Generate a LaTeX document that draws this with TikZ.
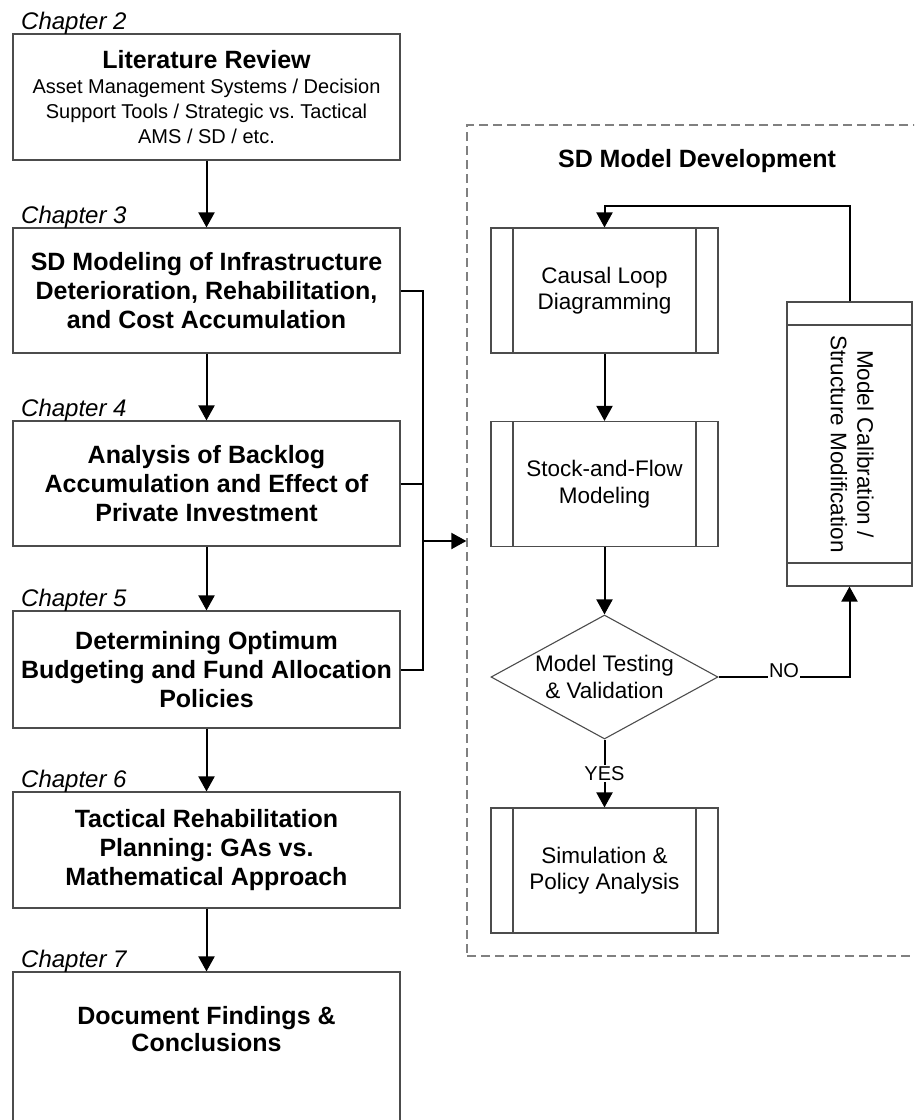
\documentclass[tikz,border=0pt]{standalone}
\usepackage{fontspec}
\usepackage{graphicx}
\setmainfont{Liberation Sans}
\usetikzlibrary{arrows.meta,shapes.geometric}
\frenchspacing

\begin{document}
\begin{tikzpicture}[x=1pt,y=-1pt,
  chapbox/.style={draw=black!70, line width=1.1pt, minimum width=387pt, inner sep=0pt,
    align=center, font=\fontsize{25}{29}\selectfont\bfseries},
  chaplabel/.style={anchor=base west, inner sep=0pt, font=\fontsize{24}{28}\selectfont\itshape},
  process/.style={draw=black!70, line width=1.1pt, minimum width=227pt, minimum height=125pt,
    inner sep=0pt, align=center, font=\fontsize{22.5}{26.5}\selectfont,
    path picture={\draw[black!70, line width=1.1pt]
      ([xshift=22pt]path picture bounding box.north west) -- ([xshift=22pt]path picture bounding box.south west)
      ([xshift=-22pt]path picture bounding box.north east) -- ([xshift=-22pt]path picture bounding box.south east);}},
  vprocess/.style={draw=black!70, line width=1.1pt, minimum width=125pt, minimum height=284pt,
    inner sep=0pt, font=\fontsize{22.5}{26.5}\selectfont,
    path picture={\draw[black!70, line width=1.1pt]
      ([yshift=-23pt]path picture bounding box.north west) -- ([yshift=-23pt]path picture bounding box.north east)
      ([yshift=23pt]path picture bounding box.south west) -- ([yshift=23pt]path picture bounding box.south east);}},
  decision/.style={draw=black!70, line width=1.1pt, diamond, minimum width=227pt, minimum height=124pt, inner sep=0pt},
  flow/.style={line width=2pt, -{Triangle[width=16pt,length=15pt]}},
  link/.style={line width=2pt},
  tag/.style={fill=white, inner sep=1pt, font=\fontsize{20}{24}\selectfont}
]
\useasboundingbox (0,0) rectangle (914,1120);
\clip (0,0) rectangle (914,1120);

% chapter sequence
\node[chapbox, minimum height=126pt, font=\fontsize{20}{25}\selectfont] (lit) at (206.5,97)
  {{\fontsize{25}{26}\selectfont\bfseries Literature Review}\\Asset Management Systems / Decision\\Support Tools / Strategic vs. Tactical\\AMS / SD / etc.};
\node[chapbox, minimum height=125pt] (sdmod) at (206.5,290.5)
  {SD Modeling of Infrastructure\\Deterioration, Rehabilitation,\\and Cost Accumulation};
\node[chapbox, minimum height=125pt] (backlog) at (206.5,483.5)
  {Analysis of Backlog\\Accumulation and Effect of\\Private Investment};
\node[chapbox, minimum height=117pt] (budget) at (206.5,669.5)
  {Determining Optimum\\Budgeting and Fund Allocation\\Policies};
\node[chapbox, minimum height=116pt] (tactical) at (206.5,850)
  {Tactical Rehabilitation\\Planning: GAs vs.\\Mathematical Approach};
\node[chapbox, minimum height=180pt,
  label={[align=center, font=\fontsize{25}{27}\selectfont\bfseries, yshift=33pt]center:Document Findings \&\\Conclusions}]
  (findings) at (206.5,1062) {};

\node[chaplabel] (ch2) at (21,29.5) {Chapter 2};
\node[chaplabel] (ch3) at (21,223) {Chapter 3};
\node[chaplabel] (ch4) at (21,416) {Chapter 4};
\node[chaplabel] (ch5) at (21,606) {Chapter 5};
\node[chaplabel] (ch6) at (21,787) {Chapter 6};
\node[chaplabel] (ch7) at (21,967) {Chapter 7};

\draw[flow] (lit) -- (sdmod);
\draw[flow] (sdmod) -- (backlog);
\draw[flow] (backlog) -- (budget);
\draw[flow] (budget) -- (tactical);
\draw[flow] (tactical) -- (findings);

% model development panel
\node[draw=black!50, line width=1.3pt, dash pattern=on 9pt off 5pt, minimum width=470pt,
  minimum height=831pt, inner sep=0pt] (frame) at (702,540.5) {};
\node[anchor=base, inner sep=0pt, font=\fontsize{25}{30}\selectfont\bfseries] (frametitle) at (697,167) {SD Model Development};

\node[process] (causal) at (604.5,290.5) {Causal Loop\\Diagramming};
\node[process] (stock) at (604.5,484) {Stock-and-Flow\\Modeling};
\node[decision, label={[align=center, font=\fontsize{22.5}{26.5}\selectfont]center:Model Testing\\\& Validation}] (test) at (604.5,677) {};
\node[process] (sim) at (604.5,870.5) {Simulation \&\\Policy Analysis};
\node[vprocess] (calib) at (849.5,444)
  {\rotatebox{-90}{\begin{tabular}{@{}c@{}}Model Calibration /\\Structure Modification\end{tabular}}};

% chapters feeding the model development
\coordinate (bus) at (423,541);
\draw[link] (sdmod.east) -| (bus);
\draw[link] (backlog.east) -- (backlog.east -| bus);
\draw[link] (budget.east) -| (bus);
\draw[flow] (bus) -- (bus -| frame.west);

\draw[flow] (causal) -- (stock);
\draw[flow] (stock) -- (test);
\draw[flow] (test) -- node[tag]{YES} (sim);
\draw[flow] (test.east) -| node[tag, pos=0.25, yshift=6pt]{NO} (calib.south);
\coordinate (looptop) at (849.5,206);
\draw[flow] (calib.north) |- (causal.north |- looptop) -- (causal.north);
\end{tikzpicture}
\end{document}
